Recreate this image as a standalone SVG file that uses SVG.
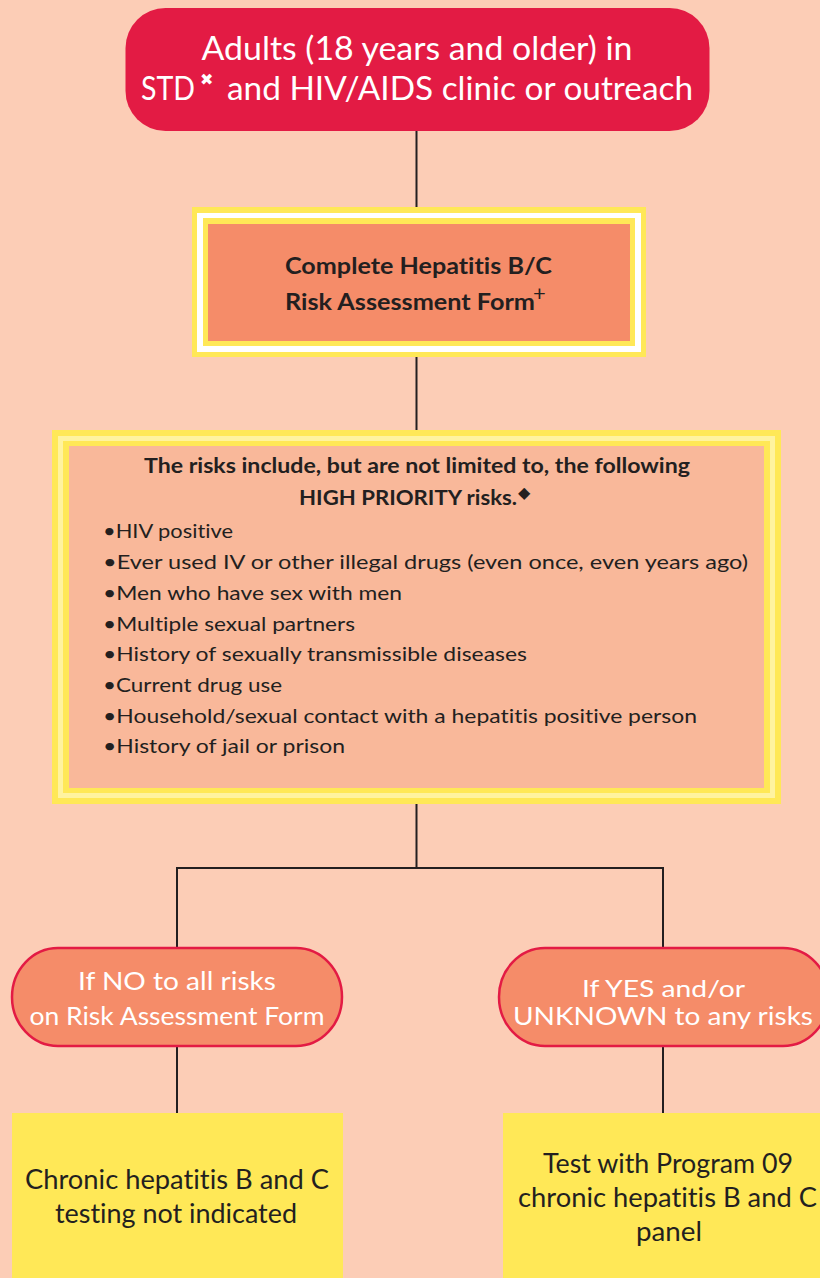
<svg xmlns="http://www.w3.org/2000/svg" width="820" height="1278" viewBox="0 0 820 1278">
<style>
.bg{fill:#FCCDB6}
.t{font-family:Lato,"Liberation Sans",sans-serif;font-variant-ligatures:none}
.w{fill:#FFFFFF}
.k{fill:#231F20}
.b{font-weight:bold}
.c{text-anchor:middle}
.yel{fill:#FFE857}
.conn line{stroke:#231F20;stroke-width:2}
.pill{fill:#F58C69;stroke:#E31B44;stroke-width:2.5}
</style>
<rect class="bg" x="0" y="0" width="820" height="1278"/>
<g class="conn">
<line x1="416.5" y1="130" x2="416.5" y2="208"/>
<line x1="416.5" y1="356" x2="416.5" y2="431"/>
<line x1="416.5" y1="803" x2="416.5" y2="868"/>
<line x1="176" y1="868" x2="664" y2="868"/>
<line x1="177" y1="867" x2="177" y2="949"/>
<line x1="663" y1="867" x2="663" y2="949"/>
<line x1="177" y1="1045" x2="177" y2="1114"/>
<line x1="663" y1="1045" x2="663" y2="1114"/>
</g>
<g id="start">
<rect x="125.5" y="8" width="584" height="123" rx="40" ry="40" fill="#E31B44"/>
<text class="t w c" x="417" y="60" font-size="32" textLength="431" lengthAdjust="spacingAndGlyphs">Adults (18 years and older) in</text>
<text class="t w" x="141" y="100" font-size="32" textLength="54" lengthAdjust="spacingAndGlyphs">STD</text>
<text class="w" x="200" y="85" font-size="16" font-family="DejaVu Sans,sans-serif">✖</text>
<text class="t w" x="227" y="100" font-size="32" textLength="466" lengthAdjust="spacingAndGlyphs">and HIV/AIDS clinic or outreach</text>
</g>
<g id="form">
<rect x="192" y="207" width="454" height="150" class="yel"/>
<rect x="197" y="213" width="444" height="139" fill="#FFFFFF"/>
<rect x="203" y="218" width="432" height="128" class="yel"/>
<rect x="208" y="224" width="422" height="117" fill="#F58C69"/>
<text class="t k b c" x="418.5" y="274" font-size="23" textLength="267" lengthAdjust="spacingAndGlyphs">Complete Hepatitis B/C</text>
<text class="t k b" x="285" y="310" font-size="23" textLength="250" lengthAdjust="spacingAndGlyphs">Risk Assessment Form</text>
<text class="t k" x="533" y="301" font-size="22">+</text>
</g>
<g id="risks">
<rect x="52" y="430" width="729" height="374" class="yel"/>
<rect x="58" y="436" width="717" height="362" fill="#FFF3A0"/>
<rect x="63" y="441" width="707" height="352" class="yel"/>
<rect x="69" y="446" width="695" height="342" fill="#F9B89A"/>
<text class="t k b" x="144" y="473" font-size="21" textLength="546" lengthAdjust="spacingAndGlyphs">The risks include, but are not limited to, the following</text>
<text class="t k b" x="299" y="505" font-size="21" textLength="218" lengthAdjust="spacingAndGlyphs">HIGH PRIORITY risks.</text>
<text class="k" x="518" y="498" font-size="16" font-family="DejaVu Sans,sans-serif">◆</text>
<g class="t k" font-size="20">
<text x="103" y="538" textLength="130" lengthAdjust="spacingAndGlyphs">•HIV positive</text>
<text x="103" y="569" textLength="645" lengthAdjust="spacingAndGlyphs">•Ever used IV or other illegal drugs (even once, even years ago)</text>
<text x="103" y="600" textLength="299" lengthAdjust="spacingAndGlyphs">•Men who have sex with men</text>
<text x="103" y="631" textLength="252" lengthAdjust="spacingAndGlyphs">•Multiple sexual partners</text>
<text x="103" y="661" textLength="424" lengthAdjust="spacingAndGlyphs">•History of sexually transmissible diseases</text>
<text x="103" y="692" textLength="179" lengthAdjust="spacingAndGlyphs">•Current drug use</text>
<text x="103" y="723" textLength="594" lengthAdjust="spacingAndGlyphs">•Household/sexual contact with a hepatitis positive person</text>
<text x="103" y="753" textLength="242" lengthAdjust="spacingAndGlyphs">•History of jail or prison</text>
</g>
</g>
<g id="no">
<rect x="12" y="948" width="330" height="98" rx="46" ry="49" class="pill"/>
<text class="t w c" x="177" y="990" font-size="25" textLength="198" lengthAdjust="spacingAndGlyphs">If NO to all risks</text>
<text class="t w c" x="177" y="1025" font-size="25" textLength="295" lengthAdjust="spacingAndGlyphs">on Risk Assessment Form</text>
</g>
<g id="yes">
<rect x="499" y="948" width="330" height="98" rx="46" ry="49" class="pill"/>
<text class="t w c" x="663.5" y="997" font-size="24" textLength="163" lengthAdjust="spacingAndGlyphs">If YES and/or</text>
<text class="t w c" x="663" y="1025" font-size="25" textLength="300" lengthAdjust="spacingAndGlyphs">UNKNOWN to any risks</text>
</g>
<g id="notindicated">
<rect x="12" y="1113" width="331" height="170" class="yel"/>
<text class="t k c" x="177" y="1189" font-size="26" textLength="304" lengthAdjust="spacingAndGlyphs">Chronic hepatitis B and C</text>
<text class="t k c" x="176" y="1223" font-size="26" textLength="242" lengthAdjust="spacingAndGlyphs">testing not indicated</text>
</g>
<g id="test">
<rect x="503" y="1113" width="325" height="170" class="yel"/>
<text class="t k c" x="668" y="1173" font-size="26" textLength="250" lengthAdjust="spacingAndGlyphs">Test with Program 09</text>
<text class="t k c" x="667.5" y="1207" font-size="26" textLength="299" lengthAdjust="spacingAndGlyphs">chronic hepatitis B and C</text>
<text class="t k c" x="669" y="1241" font-size="26" textLength="66" lengthAdjust="spacingAndGlyphs">panel</text>
</g>
</svg>
